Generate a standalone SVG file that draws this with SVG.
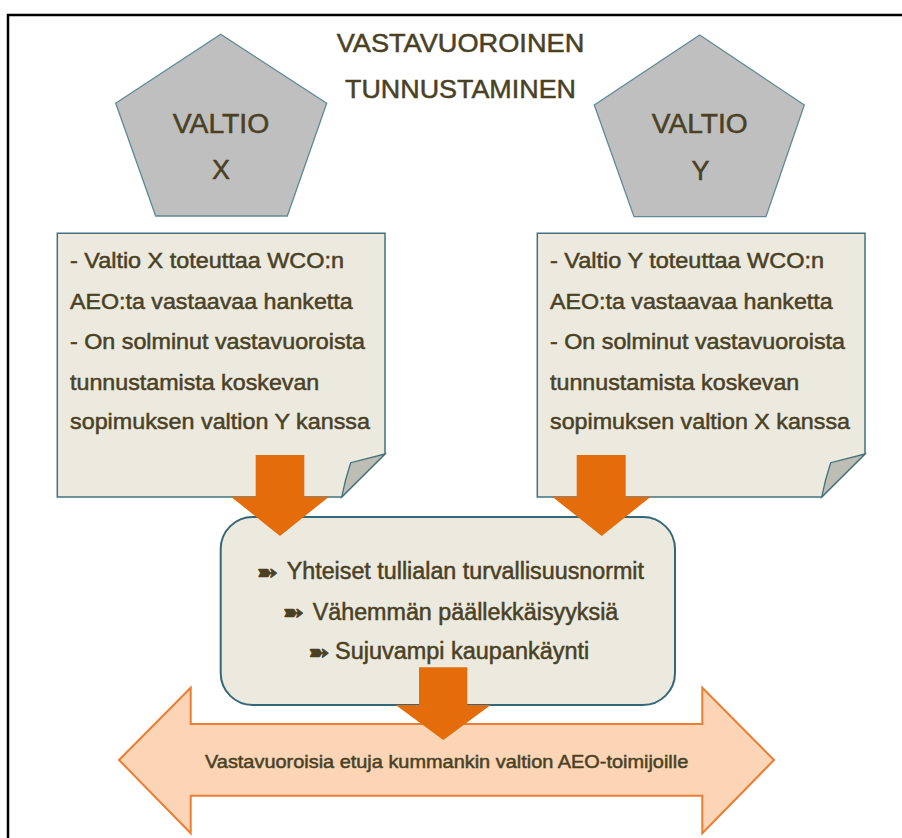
<svg xmlns="http://www.w3.org/2000/svg" width="902" height="838" viewBox="0 0 902 838">
  <style>
    .txt { font-family: "Liberation Sans", Arial, sans-serif; fill: #4a4125; stroke: #4a4125; stroke-width: 0.5; }
    .pent { fill: #bfbfbf; stroke: #5f8a97; stroke-width: 1.3; }
    .note { fill: #ece9df; stroke: #43717f; stroke-width: 1.5; }
    .fold { fill: #bdbdb3; stroke: #43717f; stroke-width: 1.3; }
    .box { fill: #ece9df; stroke: #35677a; stroke-width: 2; }
    .down { fill: #e46c0a; }
    .dbl { fill: #fbd5b5; stroke: #ed7d31; stroke-width: 2; }
    .bul { font-family: "DejaVu Sans", sans-serif; fill: #4a4125; stroke: #4a4125; stroke-width: 0.6; }
  </style>
  <rect x="8" y="15" width="900" height="830" fill="#ffffff" stroke="#000000" stroke-width="2.5"/>

  <g id="title">
    <text class="txt" x="460.5" y="52" font-size="26" text-anchor="middle" textLength="247.6" lengthAdjust="spacingAndGlyphs">VASTAVUOROINEN</text>
    <text class="txt" x="460.5" y="98" font-size="26" text-anchor="middle" textLength="231" lengthAdjust="spacingAndGlyphs">TUNNUSTAMINEN</text>
  </g>

  <g id="valtio-x">
    <polygon class="pent" points="220.7,34.3 326.7,103.3 287.3,216 155.7,216 115.7,103.3"/>
    <text class="txt" x="221" y="133.3" font-size="27" text-anchor="middle" textLength="96.6" lengthAdjust="spacingAndGlyphs">VALTIO</text>
    <text class="txt" x="221" y="179" font-size="27" text-anchor="middle">X</text>
  </g>

  <g id="valtio-y">
    <polygon class="pent" points="699.7,35 804.3,105 766,216.7 634,216.7 594.3,105"/>
    <text class="txt" x="699.7" y="133.3" font-size="27" text-anchor="middle" textLength="96" lengthAdjust="spacingAndGlyphs">VALTIO</text>
    <text class="txt" x="700.5" y="180" font-size="27" text-anchor="middle">Y</text>
  </g>

  <g id="note-x">
    <path class="note" d="M57.3,233.3 H385 V454 L341.7,497 H57.3 Z"/>
    <path class="fold" d="M385,454 L350.7,462.7 Q345,480 341.7,497 Z"/>
    <g font-size="22">
      <text class="txt" x="70" y="268.3" textLength="274" lengthAdjust="spacingAndGlyphs">- Valtio X toteuttaa WCO:n</text>
      <text class="txt" x="70" y="309.3" textLength="282.7" lengthAdjust="spacingAndGlyphs">AEO:ta vastaavaa hanketta</text>
      <text class="txt" x="70" y="349.3" textLength="295" lengthAdjust="spacingAndGlyphs">- On solminut vastavuoroista</text>
      <text class="txt" x="70" y="390" textLength="249.3" lengthAdjust="spacingAndGlyphs">tunnustamista koskevan</text>
      <text class="txt" x="70" y="429.3" textLength="300" lengthAdjust="spacingAndGlyphs">sopimuksen valtion Y kanssa</text>
    </g>
  </g>

  <g id="note-y">
    <path class="note" d="M537.3,233.3 H865 V454 L821.7,497 H537.3 Z"/>
    <path class="fold" d="M865,454 L830.7,462.7 Q825,480 821.7,497 Z"/>
    <g font-size="22">
      <text class="txt" x="550" y="268.3" textLength="274" lengthAdjust="spacingAndGlyphs">- Valtio Y toteuttaa WCO:n</text>
      <text class="txt" x="550" y="309.3" textLength="282.7" lengthAdjust="spacingAndGlyphs">AEO:ta vastaavaa hanketta</text>
      <text class="txt" x="550" y="349.3" textLength="295" lengthAdjust="spacingAndGlyphs">- On solminut vastavuoroista</text>
      <text class="txt" x="550" y="390" textLength="249.3" lengthAdjust="spacingAndGlyphs">tunnustamista koskevan</text>
      <text class="txt" x="550" y="429.3" textLength="300" lengthAdjust="spacingAndGlyphs">sopimuksen valtion X kanssa</text>
    </g>
  </g>

  <g id="benefits">
    <rect class="box" x="220.7" y="517" width="454.3" height="188" rx="32" ry="32"/>
    <text class="bul" x="0" y="0" font-size="20" transform="translate(256.5,579.5) scale(1.3,1.1)">➽</text>
    <text class="txt" x="286.7" y="579.3" font-size="23" textLength="357.3" lengthAdjust="spacingAndGlyphs">Yhteiset tullialan turvallisuusnormit</text>
    <text class="bul" x="0" y="0" font-size="20" transform="translate(282.5,620.2) scale(1.3,1.1)">➽</text>
    <text class="txt" x="312.7" y="620" font-size="23" textLength="305.6" lengthAdjust="spacingAndGlyphs">Vähemmän päällekkäisyyksiä</text>
    <text class="bul" x="0" y="0" font-size="20" transform="translate(308,659.5) scale(1.3,1.1)">➽</text>
    <text class="txt" x="335" y="659.3" font-size="23" textLength="254.3" lengthAdjust="spacingAndGlyphs">Sujuvampi kaupankäynti</text>
  </g>

  <g id="result">
    <polygon class="dbl" points="119,760 190.7,687.7 190.7,724 702.3,724 702.3,687.7 774,760 702.3,833.3 702.3,795.7 190.7,795.7 190.7,833.3"/>
    <text class="txt" x="205" y="767.7" font-size="18.5" textLength="483.3" lengthAdjust="spacingAndGlyphs">Vastavuoroisia etuja kummankin valtion AEO-toimijoille</text>
  </g>

  <g id="connectors">
    <polygon class="down" points="255.7,455 304.3,455 304.3,496.7 329,496.7 280,536 231,496.7 255.7,496.7"/>
    <polygon class="down" points="576.7,455 625.7,455 625.7,496.7 650.7,496.7 601.7,536 552.3,496.7 576.7,496.7"/>
    <polygon class="down" points="419,667.3 467.3,667.3 467.3,705 490.7,705 443.3,740 395.7,705 419,705"/>
  </g>
</svg>
